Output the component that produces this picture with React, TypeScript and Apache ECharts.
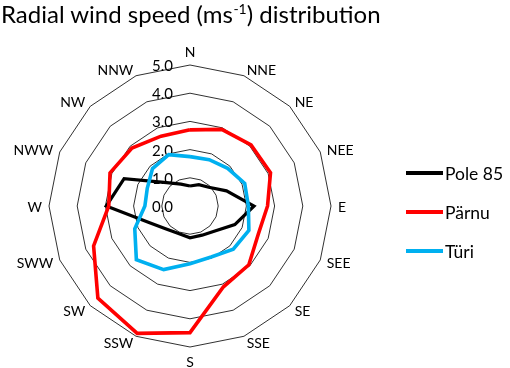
import React, { useEffect, useRef } from "react";
import * as echarts from "echarts";

// Compass directions, clockwise from N
const directions = ["N", "NNE", "NE", "NEE", "E", "SEE", "SE", "SSE", "S", "SSW", "SW", "SWW", "W", "NWW", "NW", "NNW"];
const seriesNames = ["Pole 85", "Pärnu", "Türi"];
const pole85 = [0.71, 0.82, 0.94, 1.4, 2.27, 1.72, 1.25, 1.12, 1.13, 1.06, 1.16, 1.55, 2.97, 2.53, 1.17, 0.84];
const parnu = [2.7, 2.94, 3.06, 3.09, 2.75, 2.62, 2.95, 3.1, 4.49, 4.89, 4.62, 3.7, 2.88, 3.07, 2.91, 2.68];
const turi = [1.75, 1.78, 1.89, 2.1, 2.07, 2.26, 2.17, 1.96, 2.05, 2.44, 2.69, 2.12, 1.6, 1.64, 1.88, 1.97];
const seriesColors = ["#000000", "#FF0000", "#00B0F0"];
const axisMin = 0;
const axisMax = 5;

const FONT = "Lato";

export default function App() {
  const ref = useRef<HTMLDivElement>(null);
  useEffect(() => {
    if (!ref.current) return;
    const chart = echarts.init(ref.current, undefined, { renderer: "svg" });
    // ECharts radar places indicators counter-clockwise; reorder to get clockwise compass layout
    const order = directions.map((_, i) => (i === 0 ? 0 : directions.length - i));
    const reorder = (arr: number[]) => order.map((i) => arr[i]);
    const allValues = [pole85, parnu, turi];
    const option: any = {
      animation: false,
      color: seriesColors,
      title: {
        text: "Radial wind speed (ms{sup|-1}) distribution",
        left: 1,
        top: 1,
        padding: 0,
        textStyle: {
          fontFamily: FONT,
          fontSize: 24,
          fontWeight: "normal",
          color: "#000",
          lineHeight: 24,
          rich: {
            sup: { fontFamily: FONT, fontSize: 14, verticalAlign: "top", lineHeight: 16, color: "#000" },
          },
        },
      },
      legend: {
        orient: "vertical",
        left: 401,
        top: 159,
        icon: "rect",
        itemWidth: 37,
        itemHeight: 4,
        itemGap: 21,
        data: seriesNames,
        textStyle: { fontFamily: FONT, fontSize: 17.5, color: "#000", padding: [0, 0, 0, -3] },
      },
      radar: {
        center: [190, 206],
        radius: 141,
        startAngle: 90,
        shape: "polygon",
        splitNumber: 5,
        axisName: { color: "#000", fontFamily: FONT, fontSize: 14 },
        nameGap: 7,
        axisLine: { show: false },
        axisTick: { show: false },
        axisLabel: {
          show: false,
          color: "#000",
          fontFamily: FONT,
          fontSize: 15,
          margin: 17,
          formatter: (v: number) => v.toFixed(1),
        },
        splitLine: { lineStyle: { color: "#1a1a1a", width: 0.9 } },
        splitArea: { show: false },
        indicator: order.map((i, k) => {
          const ind: any = { name: directions[i], min: axisMin, max: axisMax };
          if (k === 0) ind.axisLabel = { show: true };
          return ind;
        }),
      },
      series: [
        {
          type: "radar",
          symbol: "none",
          data: seriesNames.map((name, s) => ({
            name,
            value: reorder(allValues[s]),
            symbol: "none",
            itemStyle: { color: seriesColors[s] },
            lineStyle: { color: seriesColors[s], width: s === 0 ? 3.2 : 3.6, join: "miter" },
          })),
        },
      ],
    };
    chart.setOption(option);
    return () => chart.dispose();
  }, []);
  return <div ref={ref} style={{ position: "fixed", left: 0, top: 0, width: 510, height: 368 }} />;
}
